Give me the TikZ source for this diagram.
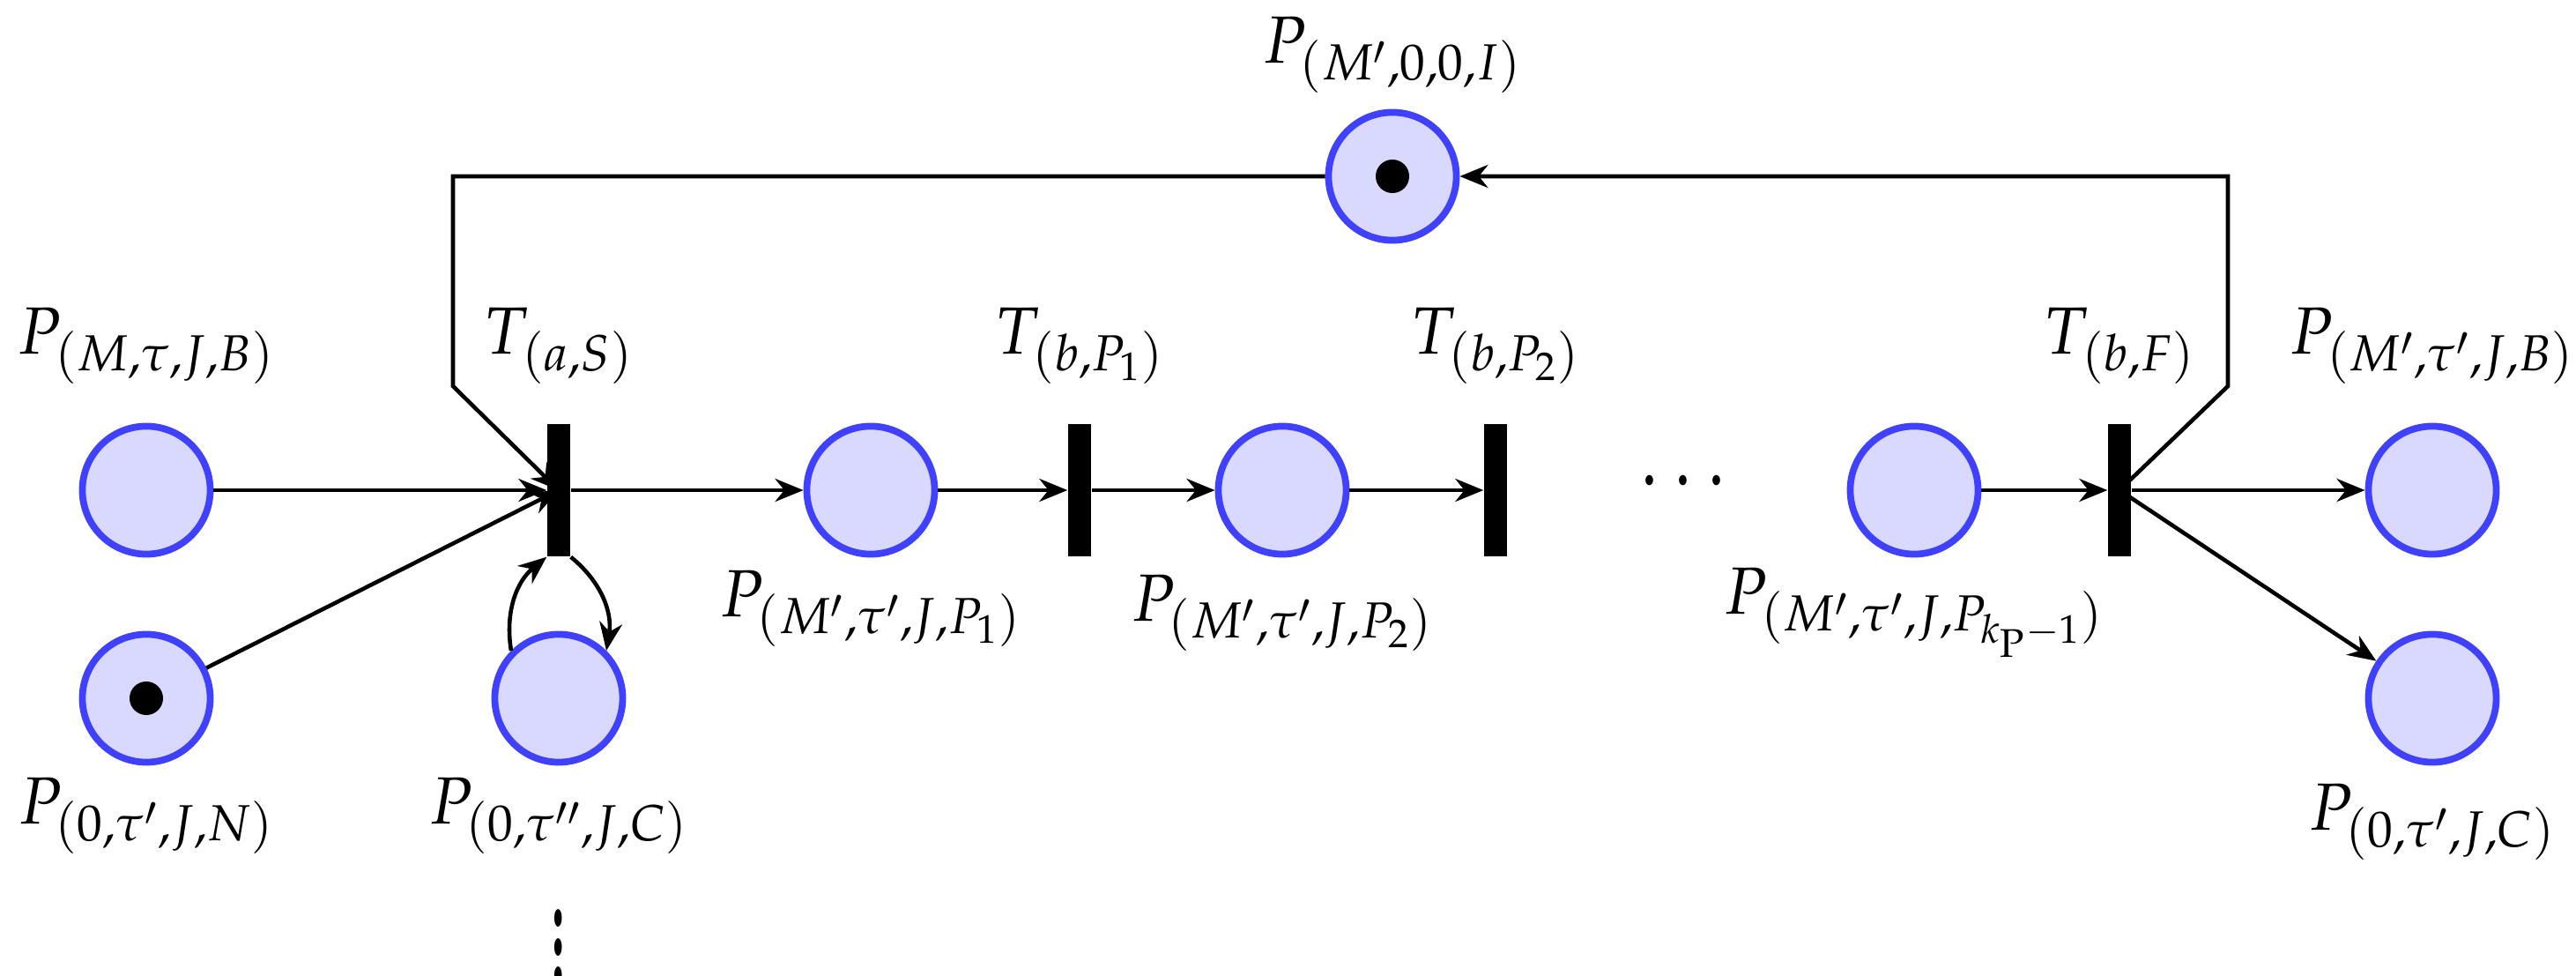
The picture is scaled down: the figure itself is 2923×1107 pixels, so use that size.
\documentclass[tikz,border=0pt]{standalone}
\usepackage{mathpazo}
\usetikzlibrary{arrows.meta}
\begin{document}
\begin{tikzpicture}[x=0.01cm,y=-0.01cm,
  pl/.style={circle,draw=blue!75!white,fill=blue!15,line width=2.2pt,minimum size=1.45cm,inner sep=0},
  tr/.style={fill=black,minimum width=0.26cm,minimum height=1.5cm,inner sep=0},
  tok/.style={circle,fill=black,minimum size=0.38cm,inner sep=0},
  lb/.style={font=\fontsize{21.5}{26}\selectfont},
  dl/.style={font=\fontsize{30}{36}\selectfont},
  ar/.style={-{Stealth[length=0.32cm,width=0.26cm]},line width=1.3pt}]
\useasboundingbox (0,0) rectangle (2923,1107);
\node[pl] (A) at (166,556) {};
\node[pl] (B) at (166,792) {}; \node[tok] at (B) {};
\node[pl] (C) at (634,792) {};
\node[tr] (T1) at (634,556) {};
\node[pl] (P1) at (988,556) {};
\node[tr] (T2) at (1225,556) {};
\node[pl] (P2) at (1455,556) {};
\node[tr] (T3) at (1697,556) {};
\node[pl] (P3) at (2172,556) {};
\node[tr] (T4) at (2405,556) {};
\node[pl] (P4) at (2760,556) {};
\node[pl] (P5) at (2760,792) {};
\node[pl] (Q) at (1580,200) {}; \node[tok] at (Q) {};
\node[lb] (lA) at (166,392) {$P_{(M,\tau,J,B)}$};
\node[lb] (lB) at (166,925) {$P_{(0,\tau',J,N)}$};
\node[lb] (lC) at (634,925) {$P_{(0,\tau'',J,C)}$};
\node[dl,yscale=2.3] (vd) at (634,1050) {$\vdots$};
\node[dl,xscale=0.75] (dd) at (1910,548) {$\cdots$};
\node[lb] (lT1) at (634,392) {$T_{(a,S)}$};
\node[lb] (lP1) at (988,690) {$P_{(M',\tau',J,P_1)}$};
\node[lb] (lT2) at (1225,392) {$T_{(b,P_1)}$};
\node[lb] (lP2) at (1455,695) {$P_{(M',\tau',J,P_2)}$};
\node[lb] (lT3) at (1697,392) {$T_{(b,P_2)}$};
\node[lb] (lP3) at (2172,695) {$P_{(M',\tau',J,P_{k_{\mathrm{P}}-1})}$};
\node[lb] (lT4) at (2405,392) {$T_{(b,F)}$};
\node[lb] (lP4) at (2760,392) {$P_{(M',\tau',J,B)}$};
\node[lb] (lP5) at (2760,932) {$P_{(0,\tau',J,C)}$};
\node[lb] (lQ) at (1580,62) {$P_{(M',0,0,I)}$};
\coordinate (a1) at (2528,438); \coordinate (a2) at (2528,200);
\coordinate (b1) at (514,200); \coordinate (b2) at (514,438);
\draw[ar] (A) -- (T1);
\draw[ar] (B) -- (T1.center);
\draw[ar] (C.north west) to[bend left=30] (T1.south west);
\draw[ar] (T1.south east) to[bend left=30] (C.north east);
\draw[ar] (T1) -- (P1);
\draw[ar] (P1) -- (T2);
\draw[ar] (T2) -- (P2);
\draw[ar] (P2) -- (T3);
\draw[ar] (P3) -- (T4);
\draw[ar] (T4) -- (P4);
\draw[ar] (T4.center) -- (P5);
\draw[ar] (T4.center) -- (a1) -- (a2) -- (Q);
\draw[ar] (Q) -- (b1) -- (b2) -- (T1.center);
\end{tikzpicture}
\end{document}
